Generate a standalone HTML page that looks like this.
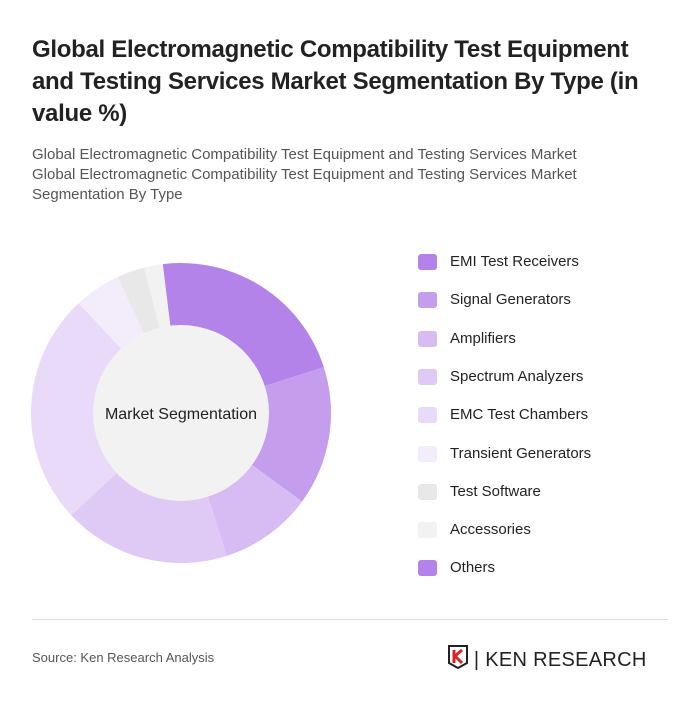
<!DOCTYPE html>
<html><head><meta charset="utf-8"><style>
body{margin:0;background:#fff;font-family:"Liberation Sans",sans-serif;}
#root{position:relative;width:700px;height:704px;overflow:hidden;}
.title{position:absolute;left:32px;top:34px;width:640px;font-size:24px;font-weight:bold;line-height:32px;color:#222;letter-spacing:-0.3px;}
.sub{position:absolute;left:32px;top:145px;width:640px;font-size:15px;line-height:20px;color:#555;white-space:nowrap;}
.leg{position:absolute;left:418px;height:20px;font-size:15px;color:#222;}
.leg span{display:inline-block;width:19px;height:16px;border-radius:3px;vertical-align:middle;margin-right:13px;}
.div{position:absolute;left:32px;top:619px;width:636px;height:1px;background:#ddd;}
.src{position:absolute;left:32px;top:650px;font-size:13px;color:#555;}
.logo{position:absolute;left:448px;top:645px;font-size:20px;color:#222;letter-spacing:0.3px;}
</style></head><body><div id="root">
<div class="title">Global Electromagnetic Compatibility Test Equipment and Testing Services Market Segmentation By Type (in value %)</div>
<div class="sub">Global Electromagnetic Compatibility Test Equipment and Testing Services Market<br>Global Electromagnetic Compatibility Test Equipment and Testing Services Market<br>Segmentation By Type</div>
<svg id="pie" width="700" height="704" style="position:absolute;left:0;top:0"></svg>
<div id="legend"></div>
<div class="div"></div>
<div class="src">Source: Ken Research Analysis</div>
<div class="logo"><svg width="20" height="24" viewBox="0 0 20 24" style="vertical-align:-3px"><path d="M1 1h18v17l-9 5-9-5z" fill="none" stroke="#222" stroke-width="2"/><path d="M6 5v13M7 11l7-6M7 11l7 7" stroke="#d22" stroke-width="3"/></svg> | KEN RESEARCH</div>
<script>
const categories=["EMI Test Receivers","Signal Generators","Amplifiers","Spectrum Analyzers","EMC Test Chambers","Transient Generators","Test Software","Accessories","Others"];
const values=[22,15,10,18,25,5,3,2,0];
const colors=["#b383e9","#c49ded","#d6bcf3","#dfc9f5","#e8daf8","#f3ecfb","#e8e8e8","#f2f2f2","#b383e9"];
const svg=document.getElementById('pie');const NS="http://www.w3.org/2000/svg";
const cx=181,cy=413,R=150,r=88,start=-7;
const total=values.reduce((a,b)=>a+b,0);
function pt(a,rad){const t=(a-90)*Math.PI/180;return [cx+rad*Math.cos(t),cy+rad*Math.sin(t)];}
let a=start;
values.forEach((v,i)=>{if(v<=0)return;const s=v/total*360;const b=a+s;
const p1=pt(a,R),p2=pt(b,R),large=s>180?1:0;
const p=document.createElementNS(NS,'path');
p.setAttribute('d',`M${cx},${cy}L${p1[0]},${p1[1]}A${R},${R} 0 ${large} 1 ${p2[0]},${p2[1]}Z`);
p.setAttribute('fill',colors[i]);


svg.appendChild(p);a=b;});
const c=document.createElementNS(NS,'circle');c.setAttribute('cx',cx);c.setAttribute('cy',cy);c.setAttribute('r',r);c.setAttribute('fill','#f2f2f2');


svg.appendChild(c);
const t=document.createElementNS(NS,'text');t.setAttribute('x',cx);t.setAttribute('y',cy+6);t.setAttribute('text-anchor','middle');t.setAttribute('font-size','16');t.setAttribute('fill','#222');t.setAttribute('font-family','Liberation Sans, sans-serif');t.textContent='Market Segmentation';


svg.appendChild(t);
const lg=document.getElementById('legend');
categories.forEach((n,i)=>{const d=document.createElement('div');d.className='leg';d.style.top=(253+i*38.3)+'px';


d.innerHTML=`<span style="background:${colors[i]}"></span>${n}`;lg.appendChild(d);});
</script>
</div></body></html>
